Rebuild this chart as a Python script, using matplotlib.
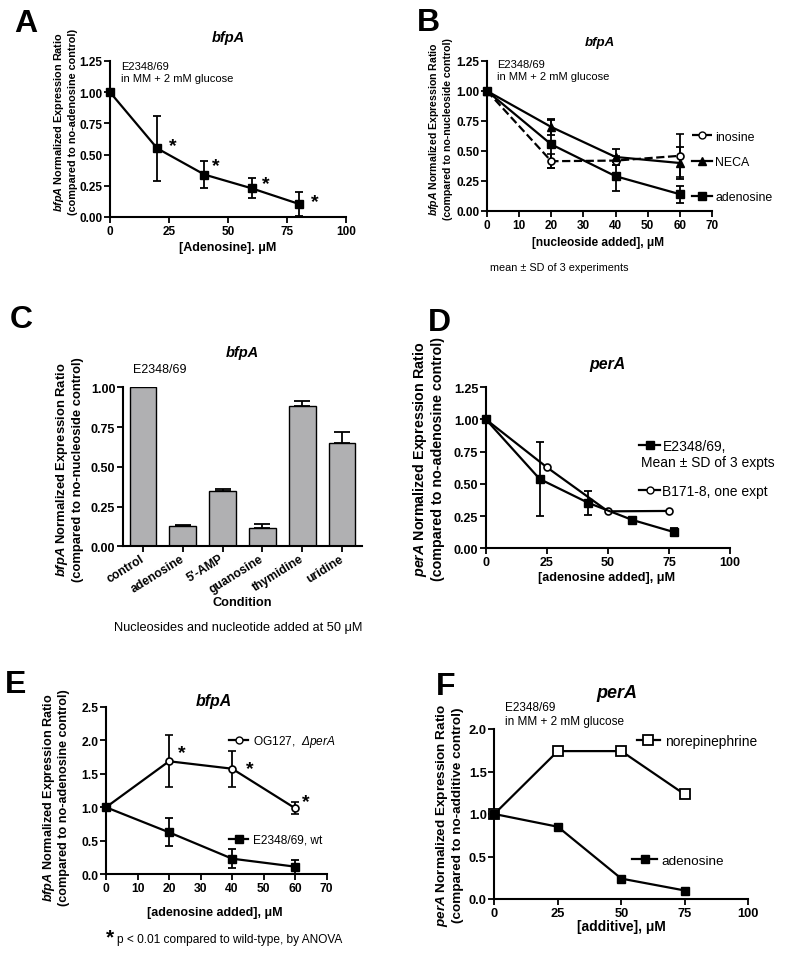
import matplotlib
matplotlib.use('Agg')
import matplotlib.pyplot as plt
from matplotlib.lines import Line2D
from matplotlib.legend import Legend
from matplotlib.ticker import FormatStrFormatter

plt.rcParams['font.family'] = ['Liberation Sans', 'DejaVu Sans']
plt.rcParams['font.weight'] = 'bold'
plt.rcParams['mathtext.fontset'] = 'custom'
plt.rcParams['mathtext.it'] = 'Liberation Sans:italic:bold'
plt.rcParams['mathtext.rm'] = 'Liberation Sans:bold'
plt.rcParams['mathtext.sf'] = 'Liberation Sans:italic:regular'

# ---------------- data ----------------
A_x = [0, 20, 40, 60, 80]
A_y = [1.0, 0.55, 0.34, 0.23, 0.105]
A_err = [0, 0.26, 0.11, 0.08, 0.095]
A_star_x = [26.5, 44.9, 66.0, 86.6]
A_star_y = [0.57, 0.41, 0.27, 0.125]

B_x = [0, 20, 40, 60]
B_inosine = [1.0, 0.415, 0.42, 0.46]
B_inosine_err = [0, 0.06, 0.04, 0.18]
B_neca = [1.0, 0.70, 0.45, 0.40]
B_neca_err = [0, 0.065, 0.07, 0.13]
B_adenosine = [1.0, 0.555, 0.29, 0.14]
B_adenosine_err = [0, 0.20, 0.12, 0.07]

C_conditions = ['control', 'adenosine', "5'-AMP", 'guanosine', 'thymidine', 'uridine']
C_values = [1.0, 0.13, 0.346, 0.117, 0.88, 0.651]
C_err = [0, 0.004, 0.012, 0.021, 0.036, 0.066]

D_e_x = [0, 22, 42, 60, 77]
D_e_y = [1.0, 0.538, 0.352, 0.22, 0.126]
D_e_err = [0, 0.285, 0.095, 0.012, 0.03]
D_b_x = [0, 25, 50, 75]
D_b_y = [1.0, 0.628, 0.287, 0.29]

E_x = [0, 20, 40, 60]
E_og = [1.0, 1.686, 1.575, 0.985]
E_og_err = [0, 0.385, 0.27, 0.09]
E_wt = [1.0, 0.626, 0.233, 0.114]
E_wt_err = [0, 0.21, 0.145, 0.105]
E_star_x = [24.0, 45.5, 63.4]
E_star_y = [1.82, 1.58, 1.08]

F_x = [0, 25, 50, 75]
F_nor = [1.0, 1.74, 1.74, 1.23]
F_ade = [1.0, 0.85, 0.24, 0.10]

# ---------------- helpers ----------------
W, H = 800, 954
fig = plt.figure(figsize=(W / 100, H / 100), dpi=100)


def fpt(x, y):
    return x / W, 1 - y / H


def px_axes(l, r, t, b):
    return fig.add_axes([l / W, 1 - b / H, (r - l) / W, (b - t) / H])


def style(ax, fs=9):
    for s in ['top', 'right']:
        ax.spines[s].set_visible(False)
    for s in ['left', 'bottom']:
        ax.spines[s].set_linewidth(1.5)
    ax.tick_params(direction='out', length=4, width=1.3, labelsize=fs, pad=1.5)


def ylab(ax, gene, line2, fs, xc, yc, ls=1.15):
    ax.set_ylabel(r"$\it{" + gene + r"}$ Normalized Expression Ratio" + "\n" + line2,
                  fontsize=fs, fontweight='bold', linespacing=ls)
    ax.yaxis.label.set_va('center')
    ax.yaxis.set_label_coords(xc / W, 1 - yc / H, transform=fig.transFigure)


def xlab(ax, text, fs, xc, yc):
    ax.set_xlabel(text, fontsize=fs, fontweight='bold')
    ax.xaxis.label.set_va('center')
    ax.xaxis.set_label_coords(xc / W, 1 - yc / H, transform=fig.transFigure)


def title(text, fs, x, y):
    fig.text(*fpt(x, y), text, fontsize=fs, fontweight='bold', style='italic',
             ha='center', va='center')


def letter(text, x, ybase):
    fig.text(*fpt(x, ybase), text, fontsize=23, fontweight='bold',
             ha='center', va='baseline')


def note(text, fs, x, y, ha='left', ls=1.2):
    fig.text(*fpt(x, y), text, fontsize=fs, fontweight='normal',
             ha=ha, va='center', linespacing=ls)


def leg(ax, hkw, label, fs, xh, yc, hl_px, pad_px):
    h = Line2D([], [], color='black', **hkw)
    em = fs * 100 / 72
    lg = Legend(ax, [h], [label], loc='center left',
                bbox_to_anchor=fpt(xh, yc), bbox_transform=fig.transFigure,
                frameon=False, borderpad=0, borderaxespad=0,
                handlelength=hl_px / em, handletextpad=pad_px / em,
                prop={'size': fs, 'weight': 'normal'})
    ax.add_artist(lg)


ekw = dict(color='black', lw=1.6, elinewidth=1.3, capsize=3, capthick=1.3,
           clip_on=False, zorder=3)

# ---------------- Panel A ----------------
axA = px_axes(110, 346, 62, 218)
axA.errorbar(A_x, A_y, yerr=A_err, fmt='-s', ms=5.5, **ekw)
axA.set_xlim(0, 100)
axA.set_ylim(0, 1.25)
axA.set_xticks([0, 25, 50, 75, 100])
axA.set_yticks([0, 0.25, 0.5, 0.75, 1.0, 1.25])
axA.yaxis.set_major_formatter(FormatStrFormatter('%.2f'))
style(axA, 8.5)
for sx, sy in zip(A_star_x, A_star_y):
    axA.text(sx, sy, '*', fontsize=14, fontweight='bold', ha='center', va='center')
ylab(axA, 'bfpA', '(compared to no-adenosine control)', 7.8, 65, 122)
xlab(axA, '[Adenosine]. \u03bcM', 9, 228, 248)
title('bfpA', 10.5, 228, 38)
letter('A', 25.5, 32)
note('E2348/69\nin MM + 2 mM glucose', 8, 121, 73.3)

# ---------------- Panel B ----------------
axB = px_axes(487, 712, 62, 212)
axB.errorbar(B_x, B_inosine, yerr=B_inosine_err, fmt='--o', ms=5, mfc='white',
             mew=1.2, **ekw)
axB.errorbar(B_x, B_neca, yerr=B_neca_err, fmt='-^', ms=5.5, **ekw)
axB.errorbar(B_x, B_adenosine, yerr=B_adenosine_err, fmt='-s', ms=5.5, **ekw)
axB.set_xlim(0, 70)
axB.set_ylim(0, 1.25)
axB.set_xticks(range(0, 71, 10))
axB.set_yticks([0, 0.25, 0.5, 0.75, 1.0, 1.25])
axB.yaxis.set_major_formatter(FormatStrFormatter('%.2f'))
style(axB, 8.5)
ylab(axB, 'bfpA', '(compared to no-nucleoside control)', 7.6, 440, 129)
xlab(axB, '[nucleoside added], \u03bcM', 8.6, 598, 243)
title('bfpA', 9.5, 599.5, 43)
letter('B', 428, 31)
note('E2348/69\nin MM + 2 mM glucose', 8, 496.7, 70.8)
note('mean \u00b1 SD of 3 experiments', 7.8, 490, 268)
leg(axB, dict(ls='--', marker='o', ms=5, mfc='white', lw=1.6), 'inosine', 8.9, 691.7, 137.7, 20, 3.3)
leg(axB, dict(ls='-', marker='^', ms=5.5, lw=1.6), 'NECA', 8.9, 691.7, 163.3, 20, 3.3)
leg(axB, dict(ls='-', marker='s', ms=5.5, lw=1.6), 'adenosine', 8.9, 691.7, 198.3, 20, 3.3)

# ---------------- Panel C ----------------
axC = px_axes(123, 362, 388.3, 547.3)
pos = list(range(len(C_conditions)))
axC.bar(pos, C_values, width=0.667, color='#b0b0b2', edgecolor='black', lw=1.0,
        yerr=[[0] * len(C_err), C_err], capsize=6,
        error_kw=dict(elinewidth=1.3, capthick=1.3, ecolor='black'))
axC.set_xlim(-0.5, 5.5)
axC.set_ylim(0, 1.0)
axC.set_yticks([0, 0.25, 0.5, 0.75, 1.0])
axC.yaxis.set_major_formatter(FormatStrFormatter('%.2f'))
axC.set_xticks(pos)
axC.set_xticklabels(C_conditions, rotation=32, ha='right', va='center',
                    rotation_mode='anchor')
style(axC)
axC.tick_params(axis='x', labelsize=8.7, pad=4)
ylab(axC, 'bfpA', '(compared to no-nucleoside control)', 9.4, 69, 470)
xlab(axC, 'Condition', 9.2, 242.5, 603)
title('bfpA', 10.5, 242.5, 353.3)
letter('C', 21.5, 328)
note('E2348/69', 9, 160, 370, ha='center')
note('Nucleosides and nucleotide added at 50 \u03bcM', 9.2, 238, 628, ha='center')

# ---------------- Panel D ----------------
axD = px_axes(486, 730, 388.3, 549.3)
axD.errorbar(D_e_x, D_e_y, yerr=D_e_err, fmt='-s', ms=5.5, **ekw)
axD.plot(D_b_x, D_b_y, '-o', color='black', ms=5, mfc='white', mew=1.2, lw=1.6,
         clip_on=False, zorder=3)
axD.set_xlim(0, 100)
axD.set_ylim(0, 1.25)
axD.set_xticks([0, 25, 50, 75, 100])
axD.set_yticks([0, 0.25, 0.5, 0.75, 1.0, 1.25])
axD.yaxis.set_major_formatter(FormatStrFormatter('%.2f'))
style(axD)
ylab(axD, 'perA', '(compared to no-adenosine control)', 10.3, 428, 459)
xlab(axD, '[adenosine added], \u03bcM', 9.1, 606.5, 578)
title('perA', 11.4, 607, 365)
letter('D', 439, 331)
leg(axD, dict(ls='-', marker='s', ms=5.5, lw=1.6), 'E2348/69,', 10, 639, 446.7, 21, 2.5)
note('Mean \u00b1 SD of 3 expts', 10, 640.7, 463.3)
leg(axD, dict(ls='-', marker='o', ms=5, mfc='white', lw=1.6), 'B171-8, one expt', 10, 639, 491.7, 21, 2.5)

# ---------------- Panel E ----------------
axE = px_axes(106, 326.7, 707.7, 875.3)
axE.errorbar(E_x, E_og, yerr=E_og_err, fmt='-o', ms=5, mfc='white', mew=1.2, **ekw)
axE.errorbar(E_x, E_wt, yerr=E_wt_err, fmt='-s', ms=5.5, **ekw)
axE.set_xlim(0, 70)
axE.set_ylim(0, 2.5)
axE.set_xticks(range(0, 71, 10))
axE.set_yticks([0, 0.5, 1.0, 1.5, 2.0, 2.5])
axE.yaxis.set_major_formatter(FormatStrFormatter('%.1f'))
style(axE, 8.7)
for sx, sy in zip(E_star_x, E_star_y):
    axE.text(sx, sy, '*', fontsize=14, fontweight='bold', ha='center', va='center')
ylab(axE, 'bfpA', '(compared to no-adenosine control)', 9.1, 55.5, 798)
xlab(axE, '[adenosine added], \u03bcM', 9, 214.5, 912.7)
title('bfpA', 11.4, 213.7, 701.7)
letter('E', 16, 693)
leg(axE, dict(ls='-', marker='o', ms=5, mfc='white', lw=1.6),
    'OG127,  $\\mathsf{\u0394perA}$', 8.6, 229, 742.3, 19, 5)
leg(axE, dict(ls='-', marker='s', ms=5.5, lw=1.6), 'E2348/69, wt', 8.6, 229, 840.7, 19, 5)
fig.text(*fpt(109.5, 938), '*', fontsize=15, fontweight='bold', ha='center', va='center')
note('p < 0.01 compared to wild-type, by ANOVA', 8.6, 117, 940)

# ---------------- Panel F ----------------
axF = px_axes(494.3, 748.3, 730, 900)
axF.plot(F_x, F_nor, '-s', color='black', ms=7, mfc='white', mew=1.3, lw=1.6,
         clip_on=False, zorder=3)
axF.plot(F_x, F_ade, '-s', color='black', ms=6, lw=1.6, clip_on=False, zorder=3)
axF.set_xlim(0, 100)
axF.set_ylim(0, 2.0)
axF.set_xticks([0, 25, 50, 75, 100])
axF.set_yticks([0, 0.5, 1.0, 1.5, 2.0])
axF.yaxis.set_major_formatter(FormatStrFormatter('%.1f'))
style(axF, 9.3)
ylab(axF, 'perA', '(compared to no-additive control)', 9.7, 449, 815)
xlab(axF, '[additive], \u03bcM', 9.9, 621, 927)
title('perA', 13, 617, 693.3)
letter('F', 445.5, 695)
note('E2348/69\nin MM + 2 mM glucose', 8.5, 505, 715.3)
leg(axF, dict(ls='-', marker='s', ms=7, mfc='white', mew=1.3, lw=1.6), 'norepinephrine', 9.9, 636.7, 742.3, 23, 5)
leg(axF, dict(ls='-', marker='s', ms=6, lw=1.6), 'adenosine', 9.7, 632, 861.7, 25, 4)

fig.savefig('out.png', dpi=100, facecolor='white')
